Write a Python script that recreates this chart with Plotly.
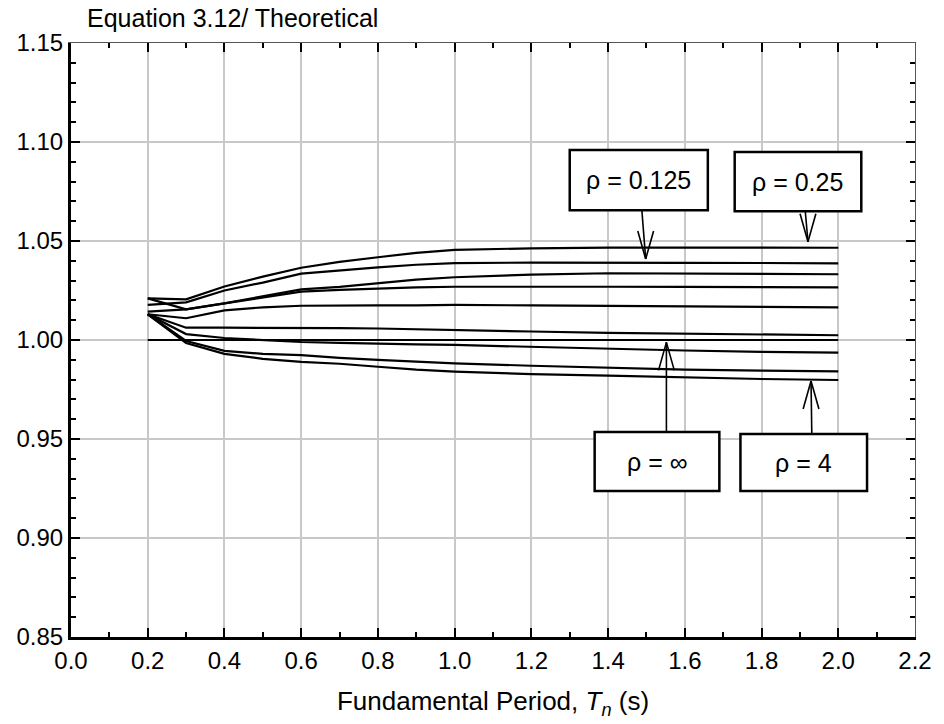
import plotly.graph_objects as go

# ---- data ----
period = [0.2, 0.3, 0.4, 0.5, 0.6, 0.7, 0.8, 0.9, 1.0, 1.2, 1.4, 1.6, 1.8, 2.0]

curve_a = [1.0210, 1.0205, 1.0270, 1.0320, 1.0365, 1.0395, 1.0418, 1.0440, 1.0455, 1.0463, 1.0467, 1.0467, 1.0466, 1.0466]
curve_b = [1.0177, 1.0190, 1.0250, 1.0290, 1.0335, 1.0352, 1.0367, 1.0380, 1.0388, 1.0391, 1.0392, 1.0390, 1.0389, 1.0387]
curve_c = [1.0210, 1.0155, 1.0185, 1.0220, 1.0256, 1.0268, 1.0288, 1.0305, 1.0317, 1.0330, 1.0337, 1.0336, 1.0334, 1.0332]
curve_d = [1.0143, 1.0155, 1.0185, 1.0215, 1.0244, 1.0253, 1.0260, 1.0266, 1.0269, 1.0270, 1.0269, 1.0268, 1.0267, 1.0266]
curve_e = [1.0130, 1.0110, 1.0150, 1.0165, 1.0173, 1.0175, 1.0175, 1.0175, 1.0177, 1.0175, 1.0173, 1.0170, 1.0167, 1.0165]
curve_f = [1.0130, 1.0062, 1.0062, 1.0062, 1.0062, 1.0060, 1.0058, 1.0055, 1.0050, 1.0043, 1.0036, 1.0031, 1.0027, 1.0024]
curve_g = [1.0000, 1.0000, 1.0000, 1.0000, 1.0000, 1.0000, 1.0000, 1.0000, 1.0000, 1.0000, 1.0000, 1.0000, 1.0000, 1.0000]
curve_h = [1.0130, 1.0030, 1.0010, 1.0000, 0.9990, 0.9985, 0.9980, 0.9978, 0.9975, 0.9965, 0.9955, 0.9947, 0.9940, 0.9936]
curve_i = [1.0130, 0.9995, 0.9945, 0.9930, 0.9924, 0.9910, 0.9900, 0.9890, 0.9882, 0.9870, 0.9860, 0.9850, 0.9845, 0.9842]
curve_j = [1.0130, 0.9985, 0.9930, 0.9905, 0.9890, 0.9880, 0.9865, 0.9850, 0.9840, 0.9828, 0.9820, 0.9810, 0.9803, 0.9798]

curves = [curve_a, curve_b, curve_c, curve_d, curve_e, curve_f, curve_g, curve_h, curve_i, curve_j]

x_ticks = [0.0, 0.2, 0.4, 0.6, 0.8, 1.0, 1.2, 1.4, 1.6, 1.8, 2.0, 2.2]
y_ticks = [0.85, 0.90, 0.95, 1.00, 1.05, 1.10, 1.15]

label_texts = ["ρ = 0.125", "ρ = 0.25", "ρ = ∞", "ρ = 4"]
# box (x0, x1, y0, y1) and arrow start-x / tip
label_boxes = [(1.300, 1.660, 1.0655, 1.0960), (1.730, 2.060, 1.0650, 1.0950),
               (1.365, 1.690, 0.9237, 0.9535), (1.745, 2.075, 0.9237, 0.9525)]
arrow_starts_x = [1.488, 1.914, 1.552, 1.931]
arrow_tips = [(1.498, 1.0409), (1.921, 1.0496), (1.552, 0.9988), (1.929, 0.9793)]

FONT = "Liberation Sans, Arial, sans-serif"
X_PX = 388.2   # px per x unit (for arrowhead sizes)
Y_PX = 1980.0  # px per y unit

fig = go.Figure()
for ys in curves:
    fig.add_trace(go.Scatter(x=period, y=ys, mode="lines",
                             line=dict(color="black", width=2.2),
                             showlegend=False, hoverinfo="skip"))
# invisible trace to create mirror axes (top / right)
fig.add_trace(go.Scatter(x=[None], y=[None], xaxis="x2", yaxis="y2",
                         showlegend=False, hoverinfo="skip"))

shapes = []
annotations = []
for text, (x0, x1, y0, y1), sx, (tx, ty) in zip(label_texts, label_boxes, arrow_starts_x, arrow_tips):
    shapes.append(dict(type="rect", xref="x", yref="y", x0=x0, x1=x1, y0=y0, y1=y1,
                       fillcolor="white", line=dict(color="black", width=2.5), layer="above"))
    annotations.append(dict(x=(x0 + x1) / 2, y=(y0 + y1) / 2, xref="x", yref="y",
                            text=text, showarrow=False,
                            font=dict(family=FONT, size=25, color="black")))
    down = ty < y0
    sy = y0 if down else y1
    shapes.append(dict(type="line", xref="x", yref="y", x0=sx, y0=sy, x1=tx, y1=ty,
                       line=dict(color="black", width=1.6), layer="above"))
    dxh = 8 / X_PX
    dyh = 28 / Y_PX * (1 if down else -1)
    for s in (-1, 1):
        shapes.append(dict(type="line", xref="x", yref="y", x0=tx, y0=ty,
                           x1=tx + s * dxh, y1=ty + dyh,
                           line=dict(color="black", width=1.6), layer="above"))

axis_common = dict(ticks="inside", tickcolor="black", tickwidth=2, ticklen=9,
                   showgrid=True, gridcolor="#c8c8c8", gridwidth=1.5, zeroline=False,
                   showline=True, linecolor="black", linewidth=3,
                   tickfont=dict(family=FONT, size=24, color="black"))

fig.update_layout(
    width=944, height=724,
    margin=dict(l=71, r=19, t=43, b=87),
    paper_bgcolor="white", plot_bgcolor="white",
    title=dict(text="Equation 3.12/ Theoretical", x=87 / 944, xanchor="left",
               y=1 - 18 / 724, yanchor="middle",
               font=dict(family=FONT, size=25, color="black")),
    xaxis=dict(range=[0, 2.2], tickvals=x_ticks, ticktext=[f"{v:.1f}" for v in x_ticks],
               minor=dict(dtick=0.1, tick0=0, ticks="inside", ticklen=5, tickwidth=2,
                          tickcolor="black", showgrid=False),
               title=dict(text="Fundamental Period, <i>T</i><sub><i>n</i></sub> (s)",
                          font=dict(family=FONT, size=26, color="black"), standoff=20),
               **axis_common),
    yaxis=dict(range=[0.85, 1.15], tickvals=y_ticks, ticktext=[f"{v:.2f}" for v in y_ticks],
               minor=dict(dtick=0.01, tick0=0.85, ticks="inside", ticklen=5, tickwidth=2,
                          tickcolor="black", showgrid=False),
               **axis_common),
    xaxis2=dict(range=[0, 2.2], overlaying="x", side="top", anchor="y2",
                showline=True, linecolor="#555555", linewidth=1,
                ticks="inside", tickvals=x_ticks, ticklen=9, tickwidth=2, tickcolor="black",
                minor=dict(dtick=0.1, tick0=0, ticks="inside", ticklen=5, tickwidth=2,
                           tickcolor="black", showgrid=False),
                showticklabels=False, showgrid=False, zeroline=False),
    yaxis2=dict(range=[0.85, 1.15], overlaying="y", side="right", anchor="x2",
                showline=True, linecolor="#555555", linewidth=1,
                ticks="inside", tickvals=y_ticks, ticklen=9, tickwidth=2, tickcolor="black",
                minor=dict(dtick=0.01, tick0=0.85, ticks="inside", ticklen=5, tickwidth=2,
                           tickcolor="black", showgrid=False),
                showticklabels=False, showgrid=False, zeroline=False),
    shapes=shapes, annotations=annotations,
)

fig.write_html("out.html")
